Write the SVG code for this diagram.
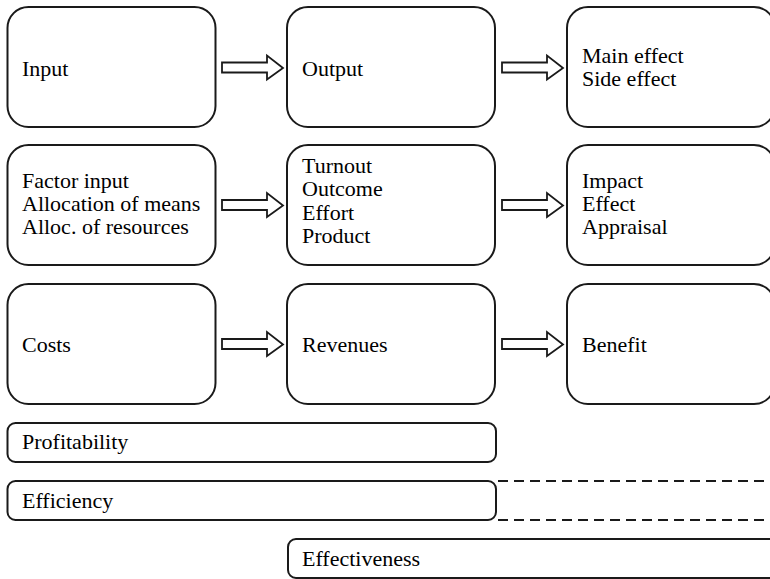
<svg xmlns="http://www.w3.org/2000/svg" width="770" height="579" viewBox="0 0 770 579">
  <defs>
    <!-- hollow block arrow, origin at the shaft's left end, centred on y=0 -->
    <polygon id="blockArrow" fill="#ffffff" stroke="#1a1a1a" stroke-width="1.8" points="0,-5 45,-5 45,-12 61,0.5 45,12 45,5 0,5"/>
  </defs>
  <rect width="770" height="579" fill="#ffffff"/>

  <!-- row 1 -->
  <g id="input" fill="#ffffff" stroke="#1a1a1a" stroke-width="2">
    <rect x="7.5" y="7" width="208" height="120" rx="21"/>
  </g>
  <text x="22" y="76" font-family="Liberation Serif" font-size="22">Input</text>
  <g id="output" fill="#ffffff" stroke="#1a1a1a" stroke-width="2">
    <rect x="287" y="7" width="208" height="120" rx="21"/>
  </g>
  <text x="302" y="76" font-family="Liberation Serif" font-size="22">Output</text>
  <g id="effects" fill="#ffffff" stroke="#1a1a1a" stroke-width="2">
    <rect x="567" y="7" width="208" height="120" rx="21"/>
  </g>
  <text x="582" y="63" font-family="Liberation Serif" font-size="22">Main effect</text>
  <text x="582" y="86" font-family="Liberation Serif" font-size="22">Side effect</text>

  <!-- row 2 -->
  <g id="factor-input" fill="#ffffff" stroke="#1a1a1a" stroke-width="2">
    <rect x="7.5" y="145" width="208" height="120" rx="21"/>
  </g>
  <text x="22" y="188" font-family="Liberation Serif" font-size="22">Factor input</text>
  <text x="22" y="211" font-family="Liberation Serif" font-size="22">Allocation of means</text>
  <text x="22" y="234" font-family="Liberation Serif" font-size="22">Alloc. of resources</text>
  <g id="turnout" fill="#ffffff" stroke="#1a1a1a" stroke-width="2">
    <rect x="287" y="145" width="208" height="120" rx="21"/>
  </g>
  <text x="302" y="173" font-family="Liberation Serif" font-size="22">Turnout</text>
  <text x="302" y="196" font-family="Liberation Serif" font-size="22">Outcome</text>
  <text x="302" y="220" font-family="Liberation Serif" font-size="22">Effort</text>
  <text x="302" y="243" font-family="Liberation Serif" font-size="22">Product</text>
  <g id="impact" fill="#ffffff" stroke="#1a1a1a" stroke-width="2">
    <rect x="567" y="145" width="208" height="120" rx="21"/>
  </g>
  <text x="582" y="188" font-family="Liberation Serif" font-size="22">Impact</text>
  <text x="582" y="211" font-family="Liberation Serif" font-size="22">Effect</text>
  <text x="582" y="234" font-family="Liberation Serif" font-size="22">Appraisal</text>

  <!-- row 3 -->
  <g id="costs" fill="#ffffff" stroke="#1a1a1a" stroke-width="2">
    <rect x="7.5" y="284" width="208" height="120" rx="21"/>
  </g>
  <text x="22" y="352" font-family="Liberation Serif" font-size="22">Costs</text>
  <g id="revenues" fill="#ffffff" stroke="#1a1a1a" stroke-width="2">
    <rect x="287" y="284" width="208" height="120" rx="21"/>
  </g>
  <text x="302" y="352" font-family="Liberation Serif" font-size="22">Revenues</text>
  <g id="benefit" fill="#ffffff" stroke="#1a1a1a" stroke-width="2">
    <rect x="567" y="284" width="208" height="120" rx="21"/>
  </g>
  <text x="582" y="352" font-family="Liberation Serif" font-size="22">Benefit</text>

  <!-- ratio bars -->
  <g id="profitability" fill="#ffffff" stroke="#1a1a1a" stroke-width="2">
    <rect x="7.5" y="423" width="488.5" height="39" rx="8"/>
  </g>
  <text x="22" y="449" font-family="Liberation Serif" font-size="22">Profitability</text>
  <g id="efficiency" fill="#ffffff" stroke="#1a1a1a" stroke-width="2">
    <rect x="7.5" y="481" width="488.5" height="39" rx="8"/>
  </g>
  <text x="22" y="508" font-family="Liberation Serif" font-size="22">Efficiency</text>
  <g id="effectiveness" fill="#ffffff" stroke="#1a1a1a" stroke-width="2">
    <rect x="288" y="539" width="500" height="39" rx="8"/>
  </g>
  <text x="302" y="566" font-family="Liberation Serif" font-size="22">Effectiveness</text>

  <!-- connectors -->
  <g id="connectors">
    <use href="#blockArrow" x="222" y="67.5"/>
    <use href="#blockArrow" x="502" y="67.5"/>
    <use href="#blockArrow" x="222" y="205"/>
    <use href="#blockArrow" x="502" y="205"/>
    <use href="#blockArrow" x="222" y="344"/>
    <use href="#blockArrow" x="502" y="344"/>
    <line x1="498" y1="481" x2="770" y2="481" stroke="#1a1a1a" stroke-width="2" stroke-dasharray="10 6"/>
    <line x1="498" y1="520" x2="770" y2="520" stroke="#1a1a1a" stroke-width="2" stroke-dasharray="10 6"/>
  </g>
</svg>
